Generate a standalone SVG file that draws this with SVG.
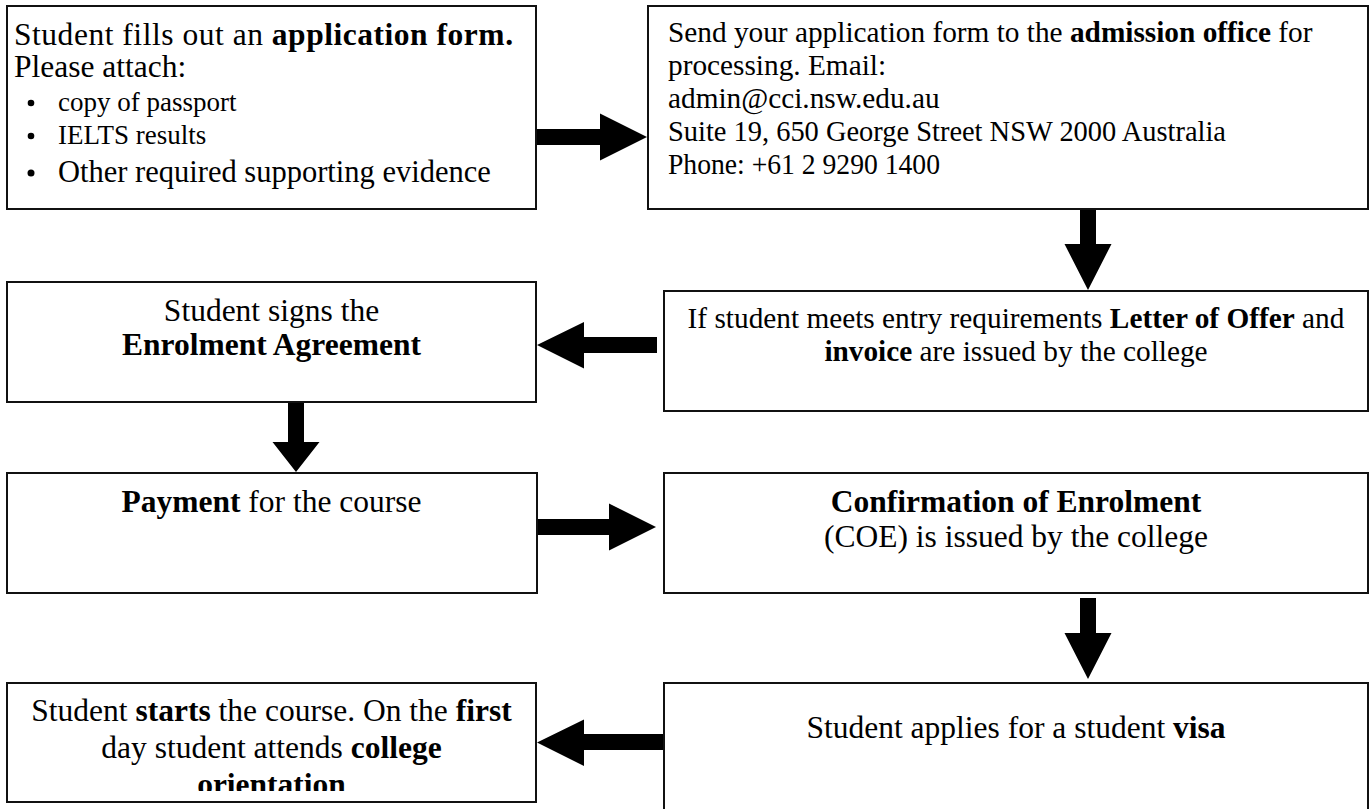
<svg xmlns="http://www.w3.org/2000/svg" width="1371" height="809" viewBox="0 0 1371 809">
<style>
.box{fill:#fff;stroke:#111;stroke-width:2}
.t{font-family:"Liberation Serif","Times New Roman",serif;font-size:31.5px;fill:#000}
.s{font-size:29.3px}
.b{font-size:27px}
.c{text-anchor:middle}
.bd{font-weight:bold}
.arrow{fill:#000}
</style>
<defs>
<clipPath id="clip8"><rect x="7" y="683" width="529" height="108"/></clipPath>
</defs>
<rect width="1371" height="809" fill="#fff"/>
<g id="connectors">
<polygon class="arrow" points="536,129 600,129 600,113.5 647,137 600,160.5 600,145 536,145"/>
<polygon class="arrow" points="1080,209 1096,209 1096,244 1111.5,244 1088,290 1064.5,244 1080,244"/>
<polygon class="arrow" points="657,337 584,337 584,322 537,345 584,368.5 584,353 657,353"/>
<polygon class="arrow" points="288,402 304,402 304,442 319.5,442 296,472 272.5,442 288,442"/>
<polygon class="arrow" points="537,519 609,519 609,503.5 656,527 609,550.5 609,535 537,535"/>
<polygon class="arrow" points="1080,598 1096,598 1096,633 1111.5,633 1088,679 1064.5,633 1080,633"/>
<polygon class="arrow" points="664,734 584,734 584,719.5 537,742.5 584,766 584,750 664,750"/>
</g>
<g id="node1">
<rect class="box" x="7" y="6" width="529" height="203"/>
<text class="t" x="14" y="45" textLength="499" lengthAdjust="spacing">Student fills out an <tspan class="bd">application form.</tspan></text>
<text class="t" x="14" y="77">Please attach:</text>
<circle cx="31" cy="103" r="3.3"/>
<text class="t b" x="58" y="111">copy of passport</text>
<circle cx="31" cy="136" r="3.3"/>
<text class="t b" x="58" y="144">IELTS results</text>
<circle cx="31" cy="173" r="3.5"/>
<text class="t" x="58" y="182" style="font-size:30.5px">Other required supporting evidence</text>
</g>
<g id="node2">
<rect class="box" x="648" y="6" width="720" height="203"/>
<text class="t s" x="668" y="42">Send your application form to the <tspan class="bd">admission office</tspan> for</text>
<text class="t s" x="668" y="75">processing. Email:</text>
<text class="t s" x="668" y="108">admin@cci.nsw.edu.au</text>
<text class="t s" x="668" y="141" textLength="558" lengthAdjust="spacingAndGlyphs">Suite 19, 650 George Street NSW 2000 Australia</text>
<text class="t s" x="668" y="174" textLength="272" lengthAdjust="spacingAndGlyphs">Phone: +61 2 9290 1400</text>
</g>
<g id="node3">
<rect class="box" x="7" y="282" width="529" height="120"/>
<text class="t c" x="271.5" y="321">Student signs the</text>
<text class="t c bd" x="271.5" y="355">Enrolment Agreement</text>
</g>
<g id="node4">
<rect class="box" x="664" y="291" width="704" height="120"/>
<text class="t s c" x="1016" y="328">If student meets entry requirements <tspan class="bd">Letter of Offer</tspan> and</text>
<text class="t s c" x="1016" y="361"><tspan class="bd">invoice</tspan> are issued by the college</text>
</g>
<g id="node5">
<rect class="box" x="7" y="473" width="530" height="120"/>
<text class="t c" x="271.5" y="512"><tspan class="bd">Payment</tspan> for the course</text>
</g>
<g id="node6">
<rect class="box" x="664" y="473" width="704" height="120"/>
<text class="t c bd" x="1016" y="512">Confirmation of Enrolment</text>
<text class="t c" x="1016" y="547">(COE) is issued by the college</text>
</g>
<g id="node7">
<rect class="box" x="664" y="683" width="704" height="140"/>
<text class="t c" x="1016" y="738">Student applies for a student <tspan class="bd">visa</tspan></text>
</g>
<g id="node8">
<rect class="box" x="7" y="683" width="529" height="119"/>
<g clip-path="url(#clip8)">
<text class="t c" x="271.5" y="721">Student <tspan class="bd">starts</tspan> the course. On the <tspan class="bd">first</tspan></text>
<text class="t c" x="271.5" y="758">day student attends <tspan class="bd">college</tspan></text>
<text class="t c bd" x="271.5" y="795">orientation</text>
</g>
</g>
</svg>
